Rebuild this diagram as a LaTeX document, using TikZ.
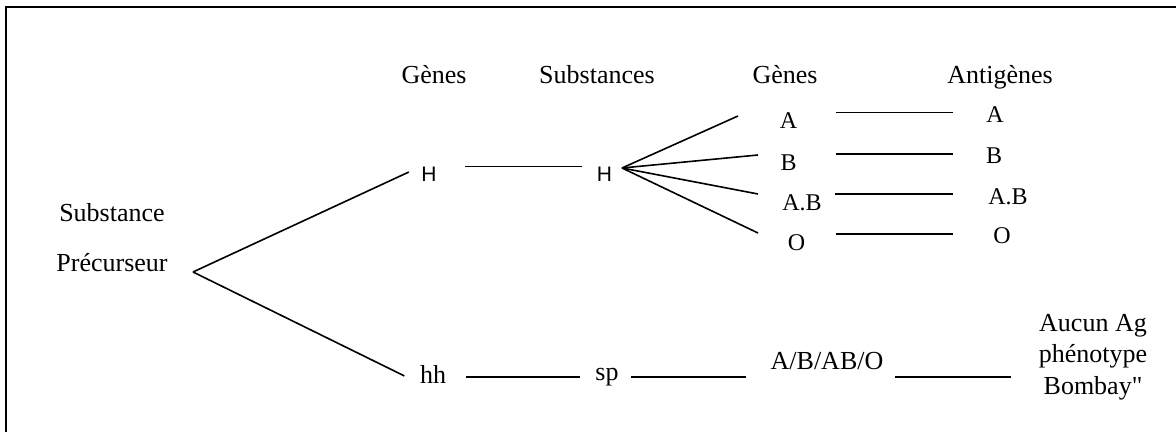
\documentclass[tikz,border=0pt]{standalone}
\usepackage{fontspec}
\setmainfont{Liberation Serif}[Ligatures=TeXOff]
\setsansfont{Liberation Sans}
\tikzset{
  lbl/.style={inner sep=0pt,font=\fontsize{12}{14}\selectfont},
  head/.style={lbl,anchor=base,font=\fontsize{13}{15}\selectfont},
  sans/.style={lbl,font=\sffamily\fontsize{10.5}{12}\selectfont},
  bot/.style={lbl,font=\fontsize{13}{15.75}\selectfont},
  link/.style={line width=0.8pt}
}
\begin{document}
\begin{tikzpicture}[x=0.5pt,y=-0.5pt]
  \useasboundingbox (0,0) rectangle (1176,432);
  % Frame
  \draw[line width=1.3pt] (6,432) -- (6,7) -- (1176,7);
  % Column heads
  \node[head] (hgen) at (434,84) {Gènes};
  \node[head] (hsub) at (597,84) {Substances};
  \node[head] (hgen2) at (785,84) {Gènes};
  \node[head] (hant) at (1000,84) {Antigènes};
  % Precursor
  \node[lbl,align=center,font=\fontsize{13}{25}\selectfont] (prec) at (112,238) {Substance\\Précurseur};
  \coordinate (root) at (193,272);
  % H branch
  \node[sans] (hg) at (429,174) {H};
  \node[sans] (hs) at (604.5,174) {H};
  \coordinate (fan) at (622,168);
  \draw[link,shorten >=6.75pt] (root) -- (hg.north west);
  \draw[link,shorten <=14.2pt,shorten >=7.45pt] (hg.north east) -- (hs.north west);
  % Genes
  \node[lbl] (ga) at (788.5,121) {A};
  \node[lbl] (gb) at (788.5,162.5) {B};
  \node[lbl] (gab) at (802,202.5) {A.B};
  \node[lbl] (go) at (796.5,242.5) {O};
  \coordinate (ea) at (738,116);
  \coordinate (eb) at (758,155);
  \coordinate (eab) at (758,194);
  \coordinate (eo) at (758,233);
  \draw[link] (fan) -- (ea);
  \draw[link] (fan) -- (eb);
  \draw[link] (fan) -- (eab);
  \draw[link] (fan) -- (eo);
  % Antigens
  \node[lbl] (aa) at (995,115) {A};
  \node[lbl] (ab) at (994,156) {B};
  \node[lbl] (aab) at (1008,197) {A.B};
  \node[lbl] (ao) at (1002,236) {O};
  \draw[link,shorten <=19.15pt,shorten >=16.65pt] (ga.north east) -- (ga.north east -| aa.west);
  \draw[link,shorten <=19.5pt,shorten >=16.5pt] (gb.north east) -- (gb.north east -| ab.west);
  \draw[link,shorten <=6.65pt,shorten >=17.65pt] (gab.north east) -- (gab.north east -| aab.west);
  \draw[link,shorten <=15.15pt,shorten >=20.15pt] (go.north east) -- (go.north east -| ao.west);
  % hh branch (Bombay)
  \node[bot] (hh) at (433,374) {hh};
  \node[bot] (sp) at (607,377) {sp};
  \node[bot] (abo) at (827,361) {A/B/AB/O};
  \node[bot,align=center] (bomb) at (1093,357) {Aucun Ag\\phénotype\\Bombay"};
  \draw[link,shorten >=8.5pt] (root) -- (hh.south west);
  \draw[link,shorten <=10pt,shorten >=7.7pt] (sp.west -| hh.east) -- (sp.west);
  \draw[link,shorten <=6.2pt,shorten >=12.35pt] (sp.east) -- (sp.east -| abo.west);
  \draw[link,shorten <=5.85pt,shorten >=13.9pt] (sp.east -| abo.east) -- (sp.east -| bomb.west);
\end{tikzpicture}
\end{document}
